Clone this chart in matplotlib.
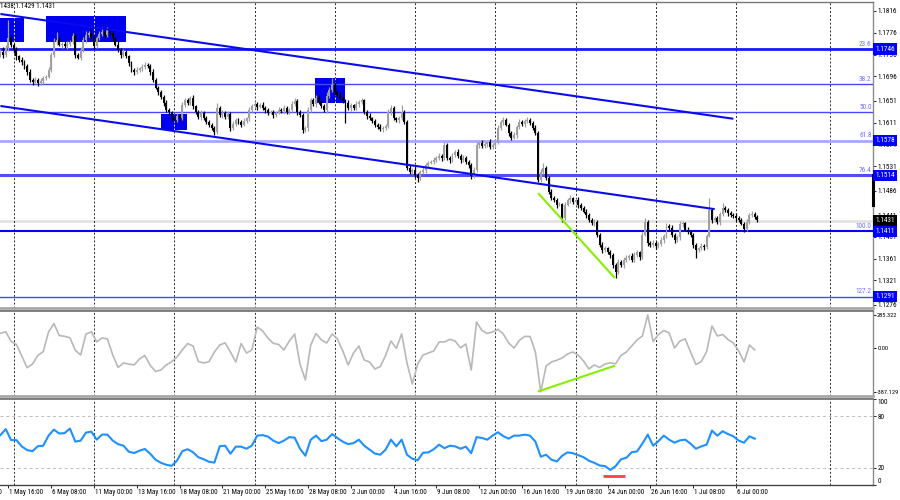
import matplotlib
matplotlib.use('Agg')
import matplotlib.pyplot as plt
import matplotlib.transforms as mtransforms
from matplotlib import font_manager as fm
from matplotlib.font_manager import FontProperties
from matplotlib.textpath import TextPath
from matplotlib.patches import Rectangle
import numpy as np

names = {f.name for f in fm.fontManager.ttflist}
FONT = 'DejaVu Sans'
for cand in ('Liberation Sans Narrow', 'DejaVu Sans Condensed', 'Roboto Condensed'):
    if cand in names:
        FONT = cand
        break
plt.rcParams['font.family'] = [FONT, 'DejaVu Sans']


def fs_for(text, width_px):
    tp = TextPath((0, 0), text, size=10, prop=FontProperties(family=FONT))
    w = tp.get_extents().width
    return 10 * (width_px * 0.72) / w

# ---------------- data ----------------
header_text = "1438 1.1429 1.1431"
first_open_pips = 11735
close_pips = [
    11741, 11735, 11748, 11766, 11754, 11744, 11733, 11726, 11722, 11715,
    11704, 11689, 11686, 11689, 11684, 11687, 11693, 11695, 11708, 11735,
    11759, 11763, 11754, 11755, 11752, 11755, 11759, 11770, 11735, 11730,
    11744, 11763, 11772, 11776, 11768, 11752, 11766, 11774, 11777, 11772,
    11781, 11776, 11766, 11754, 11744, 11735, 11741, 11733, 11720, 11708,
    11704, 11708, 11711, 11713, 11717, 11715, 11704, 11689, 11675, 11667,
    11658, 11647, 11634, 11630, 11619, 11616, 11623, 11619, 11643, 11652,
    11647, 11656, 11641, 11630, 11621, 11629, 11619, 11612, 11607, 11601,
    11594, 11638, 11625, 11629, 11621, 11627, 11601, 11608, 11616, 11612,
    11607, 11614, 11619, 11634, 11641, 11645, 11640, 11643, 11638, 11634,
    11629, 11630, 11625, 11629, 11634, 11632, 11638, 11630, 11634, 11645,
    11651, 11630, 11625, 11597, 11601, 11634, 11652, 11645, 11656, 11649,
    11641, 11634, 11660, 11671, 11680, 11667, 11662, 11656, 11652, 11647,
    11638, 11643, 11638, 11645, 11649, 11652, 11630, 11623, 11619, 11614,
    11607, 11603, 11599, 11601, 11605, 11630, 11638, 11619, 11616, 11619,
    11630, 11612, 11528, 11520, 11524, 11515, 11509, 11520, 11524, 11533,
    11537, 11539, 11542, 11546, 11550, 11546, 11570, 11546, 11542, 11551,
    11557, 11550, 11542, 11546, 11539, 11533, 11513, 11524, 11570, 11574,
    11568, 11572, 11575, 11566, 11570, 11574, 11601, 11612, 11616, 11607,
    11592, 11583, 11588, 11603, 11612, 11608, 11614, 11616, 11610, 11601,
    11592, 11506, 11520, 11528, 11509, 11484, 11472, 11469, 11460, 11461,
    11436, 11460, 11469, 11472, 11465, 11469, 11460, 11454, 11447, 11441,
    11432, 11426, 11428, 11405, 11386, 11377, 11380, 11373, 11368, 11349,
    11337, 11355, 11349, 11359, 11362, 11366, 11359, 11368, 11373, 11364,
    11405, 11428, 11390, 11386, 11390, 11384, 11388, 11395, 11403, 11421,
    11417, 11405, 11395, 11400, 11425, 11426, 11414, 11410, 11405, 11386,
    11377, 11380, 11384, 11382, 11403, 11450, 11432, 11436, 11428, 11443,
    11454, 11450, 11445, 11441, 11439, 11436, 11432, 11425, 11415, 11428,
    11441, 11443, 11438, 11432]
wick_up_pips = [
    5, 8, 6, 33, 6, 4, 5, 3, 6, 4,   4, 5, 3, 6, 4, 5, 3, 4, 5, 6,
    8, 14, 5, 4, 6, 5, 4, 6, 5, 4,   6, 5, 7, 4, 6, 5, 4, 6, 10, 5,
    6, 4, 5, 3, 6, 4, 5, 4, 3, 5,    4, 6, 3, 5, 6, 4, 3, 5, 4, 3,
    4, 3, 5, 4, 3, 5, 6, 4, 5, 4,    5, 4, 6, 3, 4, 5, 3, 4, 3, 4,
    3, 9, 4, 5, 3, 6, 4, 5, 4, 3,    4, 5, 3, 6, 4, 5, 3, 4, 5, 4,
    3, 5, 4, 3, 6, 4, 5, 3, 4, 6,    5, 3, 4, 3, 4, 6, 5, 4, 6, 5,
    4, 5, 8, 6, 13, 5, 4, 6, 4, 3,   5, 4, 3, 6, 4, 5, 3, 4, 5, 3,
    4, 3, 5, 4, 3, 6, 5, 4, 3, 4,    13, 5, 4, 5, 3, 6, 4, 3, 5, 4,
    4, 3, 5, 4, 6, 3, 5, 4, 3, 5,    4, 5, 3, 6, 4, 3, 4, 5, 6, 4,
    5, 4, 3, 5, 4, 6, 5, 4, 5, 3,    4, 3, 5, 4, 6, 3, 4, 5, 3, 4,
    5, 4, 6, 9, 4, 3, 5, 4, 3, 4,    3, 5, 4, 6, 3, 4, 5, 3, 4, 5,
    4, 3, 5, 4, 3, 5, 4, 3, 4, 3,    4, 5, 3, 6, 5, 4, 6, 5, 4, 3,
    5, 8, 4, 3, 5, 4, 3, 5, 4, 6,    4, 5, 3, 4, 6, 4, 3, 5, 4, 3,
    4, 3, 5, 4, 3, 22, 5, 4, 3, 4,   9, 4, 5, 3, 4, 5, 3, 4, 3, 5,
    4, 6, 3, 4]
wick_dn_pips = [
    4, 5, 3, 6, 4, 5, 7, 4, 5, 6,    5, 4, 6, 3, 5, 4, 6, 4, 3, 5,
    4, 5, 3, 6, 4, 5, 3, 4, 5, 3,    4, 3, 5, 4, 3, 5, 4, 3, 4, 5,
    3, 4, 5, 3, 4, 5, 3, 4, 5, 4,    5, 3, 4, 5, 3, 4, 5, 4, 3, 5,
    4, 5, 3, 4, 5, 3, 4, 5, 3, 4,    3, 4, 5, 3, 4, 5, 3, 4, 5, 3,
    6, 4, 3, 5, 4, 3, 5, 4, 3, 4,    5, 3, 4, 5, 3, 4, 5, 3, 4, 5,
    4, 3, 5, 4, 3, 4, 5, 3, 4, 3,    4, 5, 3, 6, 4, 5, 3, 4, 5, 3,
    4, 3, 5, 4, 3, 5, 4, 3, 5, 37,   4, 5, 3, 4, 5, 3, 4, 5, 3, 4,
    5, 3, 4, 5, 3, 4, 5, 3, 4, 5,    3, 4, 5, 3, 4, 5, 7, 4, 3, 5,
    4, 3, 5, 4, 3, 5, 4, 3, 5, 4,    3, 4, 5, 3, 4, 5, 6, 3, 4, 5,
    3, 4, 5, 3, 4, 5, 3, 4, 5, 3,    5, 4, 3, 5, 4, 3, 5, 4, 3, 4,
    3, 4, 5, 3, 4, 5, 3, 4, 5, 3,    8, 4, 3, 5, 4, 3, 5, 4, 3, 5,
    4, 3, 5, 4, 3, 5, 4, 3, 5, 6,    11, 4, 3, 5, 4, 3, 5, 4, 3, 5,
    4, 3, 5, 4, 3, 5, 4, 3, 5, 4,    3, 4, 5, 3, 4, 5, 3, 4, 5, 6,
    15, 4, 3, 5, 4, 3, 5, 4, 3, 5,   4, 3, 5, 4, 3, 5, 4, 3, 5, 4,
    3, 4, 5, 3]

# indicators, one value every 2 bars (bars 0, 2, ..., 282)
cci_values = [
    125, 139, 54, 28, -73, -175, -143, -68, -35, 137,
    211, 106, 99, 86, -23, -64, 119, 139, 50, 85,
    76, -64, -173, -134, -143, -151, -99, -68, -154, -208,
    -195, -151, -122, -82, -20, 36, 15, -121, -134, -122,
    -38, 23, 42, -38, -125, 36, -47, -20, 180, 146,
    85, 38, 28, -20, 58, 119, -143, -282, 23, 124,
    67, 41, 119, 76, -29, -151, -47, 15, -108, -125,
    -186, -165, -68, 58, -6, 120, -134, -317, -143, -64,
    -47, -29, 50, 50, 73, 58, -2, 32, -195, 224,
    150, 124, 137, 160, 119, 41, -3, 63, 98, 98,
    -38, -387, -160, -125, -110, -90, -55, -38, -64, -117,
    -186, -151, -173, -143, -132, -140, -68, -38, 15, 67,
    102, 285, 54, 115, 150, 128, -3, 58, 76, -38,
    -147, -122, -35, 189, 102, 115, 71, 41, -29, -125,
    23, -20]
rsi_values = [
    58.0, 65.0, 52.2, 52.2, 44.8, 40.6, 39.3, 45.1, 45.7, 57.4,
    64.4, 59.8, 60.4, 65.6, 50.4, 51.6, 60.9, 62.1, 52.7, 58.6,
    58.6, 51.6, 47.5, 45.7, 38.7, 37.2, 39.9, 41.9, 36.4, 29.4,
    25.8, 23.5, 22.3, 28.2, 39.3, 41.6, 38.1, 32.3, 29.9, 27.0,
    26.0, 45.1, 45.7, 36.4, 44.6, 44.6, 42.2, 45.7, 57.4, 58.0,
    56.3, 51.6, 48.7, 51.6, 55.7, 55.1, 42.2, 34.0, 52.7, 57.4,
    51.0, 52.7, 59.2, 54.5, 50.4, 47.5, 48.7, 52.7, 45.7, 41.1,
    36.6, 35.2, 41.1, 52.7, 44.9, 52.7, 35.2, 30.5, 28.8, 37.5,
    37.9, 41.6, 46.9, 42.8, 45.7, 44.9, 42.2, 44.6, 37.0, 55.7,
    54.7, 52.7, 57.4, 61.3, 56.8, 53.9, 57.4, 57.4, 58.6, 57.4,
    50.4, 32.9, 35.2, 29.4, 27.4, 34.0, 37.9, 37.0, 34.6, 32.3,
    28.2, 25.8, 22.7, 22.0, 17.5, 22.0, 29.9, 31.7, 38.1, 39.1,
    48.1, 58.6, 45.7, 51.0, 57.4, 52.7, 49.2, 51.9, 52.7, 48.1,
    42.2, 44.9, 46.9, 63.3, 57.4, 62.5, 59.2, 56.6, 51.6, 49.2,
    56.6, 53.9]

time_label_bars = [-13, 3, 19, 35, 51, 67, 83, 99, 115, 131, 147, 163, 179,
                   195, 211, 227, 243, 259, 275]
time_labels = ["29 Apr 00:00", "1 May 16:00", "6 May 08:00", "11 May 00:00",
               "13 May 16:00", "18 May 08:00", "21 May 00:00", "25 May 16:00",
               "28 May 08:00", "2 Jun 00:00", "4 Jun 16:00", "9 Jun 08:00",
               "12 Jun 00:00", "16 Jun 16:00", "19 Jun 08:00", "24 Jun 00:00",
               "26 Jun 16:00", "1 Jul 08:00", "6 Jul 00:00"]
grid_bars = [5, 35, 65, 95, 125, 155, 185, 215, 245, 275, 310]

price_ticks = [1.1816, 1.1776, 1.1736, 1.1696, 1.1651, 1.1611, 1.1571, 1.1531,
               1.1486, 1.1441, 1.1401, 1.1361, 1.1321, 1.1276]
fib_levels = ["23.6", "38.2", "50.0", "61.8", "76.4", "100.0", "127.2"]
fib_prices = [1.1746, 1.1682, 1.1630, 1.1578, 1.1514, 1.1411, 1.1291]
fib_boxed = [True, False, False, True, True, True, True]
current_price = 1.1431

boxes_bars = [(-1.0, 8.8), (17.0, 47.0), (60.0, 69.8), (117.6, 128.8)]
boxes_prices = [(1.1759, 1.1803), (1.1759, 1.1807), (1.1597, 1.1627), (1.1647, 1.1693)]

channel_upper = ([0, 274], [1.18105, 1.1618])
channel_lower = ([0, 267], [1.16415, 1.1452])
green_price = ([201.3, 229.4], [1.1480, 1.1327])
green_cci = ([201.3, 229.4], [-380, -160])
red_rsi = ([225.3, 233.5], [11, 11])

cci_ticks = [285.322, 0.0, -387.129]
cci_tick_labels = ["285.322", "0.00", "-387.129"]
rsi_ticks = [100, 80, 20, 0]

# font sizes fitted to the reference text widths (pixels)
FS_T = fs_for("11 May 00:00", 37)
FS_P = fs_for("1.1816", 19)
FS_C = fs_for("-387.129", 21.5)
FS_F = fs_for("23.6", 12)
FS_H = fs_for(header_text, 53)

# ---------------- figure ----------------
fig = plt.figure(figsize=(9, 5), dpi=100)
fig.patch.set_facecolor('white')
ax = fig.add_axes([0, 0.384, 0.97, 0.612])
axc = fig.add_axes([0, 0.208, 0.97, 0.170])
axr = fig.add_axes([0, 0.030, 0.97, 0.172])

XL = (-0.15, 326.2)
for a in (ax, axc, axr):
    a.set_xlim(*XL)
    a.set_xticks([])
    a.yaxis.tick_right()
    a.tick_params(axis='y', direction='out', length=2, width=0.6, pad=1.5,
                  labelsize=FS_P, colors='#000000')
    a.spines['left'].set_visible(False)
    a.spines['right'].set_color('#8c8c8c')
    a.spines['right'].set_linewidth(1.0)
    for g in grid_bars:
        a.axvline(g, color='#2a2a2a', lw=0.7, ls=(0, (2, 2)), zorder=1.5)

ax.spines['top'].set_color('#777777')
ax.spines['top'].set_linewidth(1.0)
ax.spines['bottom'].set_color('#a8a8a8')
ax.spines['bottom'].set_linewidth(2.0)
for a in (axc, axr):
    a.spines['top'].set_color('#6a6a6a')
    a.spines['top'].set_linewidth(1.2)
axc.spines['bottom'].set_color('#a8a8a8')
axc.spines['bottom'].set_linewidth(2.0)
axr.spines['bottom'].set_color('#444444')
axr.spines['bottom'].set_linewidth(1.0)

# ---- main price panel ----
ax.set_ylim(1.12704, 1.18325)
ax.set_yticks(price_ticks)
ax.set_yticklabels([f"{p:.4f}" for p in price_ticks])

n = len(close_pips)
xb = np.arange(n)
c = np.array(close_pips) / 1e4
o = np.concatenate([[first_open_pips / 1e4], c[:-1]])
hi = np.maximum(o, c) + np.array(wick_up_pips) / 1e4
lo = np.minimum(o, c) - np.array(wick_dn_pips) / 1e4
bull = c >= o
cols = np.where(bull, '#a0a0a0', '#000000')
body = np.maximum(np.abs(c - o), 0.00008)

# blue boxes
for (b0, b1), (p0, p1) in zip(boxes_bars, boxes_prices):
    ax.add_patch(Rectangle((b0, p0), b1 - b0, p1 - p0, facecolor='#0000f0',
                           edgecolor='none', zorder=2))
    for g in grid_bars:
        if b0 < g < b1:
            ax.vlines(g, p0, p1, colors='#ffff00', lw=0.7, linestyles=(0, (2, 2)), zorder=2.5)

ax.axhline(current_price, color='#e2e2e2', lw=2.0, zorder=1)
fib_colors = ['#1a1aff', '#4848ff', '#4848ff', '#a8a8ff', '#4e4eff', '#0000ff', '#4848f0']
fib_lw = [2.0, 1.0, 1.0, 2.0, 2.2, 1.5, 1.0]
blend = mtransforms.blended_transform_factory(ax.transAxes, ax.transData)
for lvl, p, colr, lw_, boxed in zip(fib_levels, fib_prices, fib_colors, fib_lw, fib_boxed):
    ax.axhline(p, color=colr, lw=lw_, zorder=3)
    ax.annotate(lvl, xy=(1.0, p), xycoords=blend, xytext=(-1, 1),
                textcoords='offset points', ha='right', va='bottom',
                color='#7070ff', fontsize=FS_F, zorder=9)
    if boxed:
        ax.text(1.003, p, f"{p:.4f}", transform=blend, ha='left', va='center',
                color='white', fontsize=FS_P, zorder=11, clip_on=False,
                bbox=dict(boxstyle='square,pad=0.3', fc='#0000ff', ec='none'))
ax.text(1.003, current_price, f"{current_price:.4f}", transform=blend, ha='left',
        va='center', color='white', fontsize=FS_P, zorder=11, clip_on=False,
        bbox=dict(boxstyle='square,pad=0.3', fc='#000000', ec='none'))
ax.plot([1.0, 1.0], [1.1515, 1.1460], transform=blend, color='black', lw=2.2,
        clip_on=False, zorder=8)

# candles
ax.vlines(xb, lo, hi, colors=cols, lw=0.9, zorder=4)
ax.bar(xb, body, bottom=np.minimum(o, c), width=0.72, color=cols, lw=0, zorder=5)

# trend lines
ax.plot(*channel_upper, color='#0a0aee', lw=1.5, zorder=6, solid_capstyle='butt')
ax.plot(*channel_lower, color='#0a0aee', lw=1.5, zorder=6, solid_capstyle='butt')
ax.plot(*green_price, color='#84f000', lw=1.5, zorder=6)

fig.text(0.0, 1 - 6.5 / 500, header_text, fontsize=FS_H, ha='left', va='center')

# ---- CCI panel ----
xi = np.arange(0, 2 * len(cci_values), 2)
axc.set_ylim(-422, 320)
axc.plot(xi, cci_values, color='#b8b8b8', lw=1.2, zorder=3)
axc.plot(*green_cci, color='#84f000', lw=1.5, zorder=4)
axc.set_yticks(cci_ticks)
axc.set_yticklabels(cci_tick_labels)
axc.tick_params(axis='y', labelsize=FS_C, pad=1.0)

# ---- RSI panel ----
axr.set_ylim(0, 100)
for lvl in (80, 20):
    axr.axhline(lvl, color='#bdbdbd', lw=0.7, ls=(0, (3, 3)), zorder=1)
axr.plot(xi, rsi_values, color='#1e90ff', lw=1.5, zorder=3)
axr.plot(*red_rsi, color='#ff4040', lw=2.0, zorder=4, solid_capstyle='butt')
axr.set_yticks(rsi_ticks)
axr.set_yticklabels([str(v) for v in rsi_ticks])
tl = axr.get_yticklabels()
tl[0].set_va('top')
tl[-1].set_va('bottom')

# time axis
axr.set_xticks([b for b in time_label_bars if b >= XL[0]])
axr.tick_params(axis='x', direction='out', length=2, width=0.6, labelbottom=False)
tb = mtransforms.blended_transform_factory(axr.transData, axr.transAxes)
for b, t in zip(time_label_bars, time_labels):
    axr.text(b + 0.3, -0.05, t, transform=tb, ha='left', va='top', fontsize=FS_T,
             clip_on=False)

fig.savefig('out.png', dpi=100)
